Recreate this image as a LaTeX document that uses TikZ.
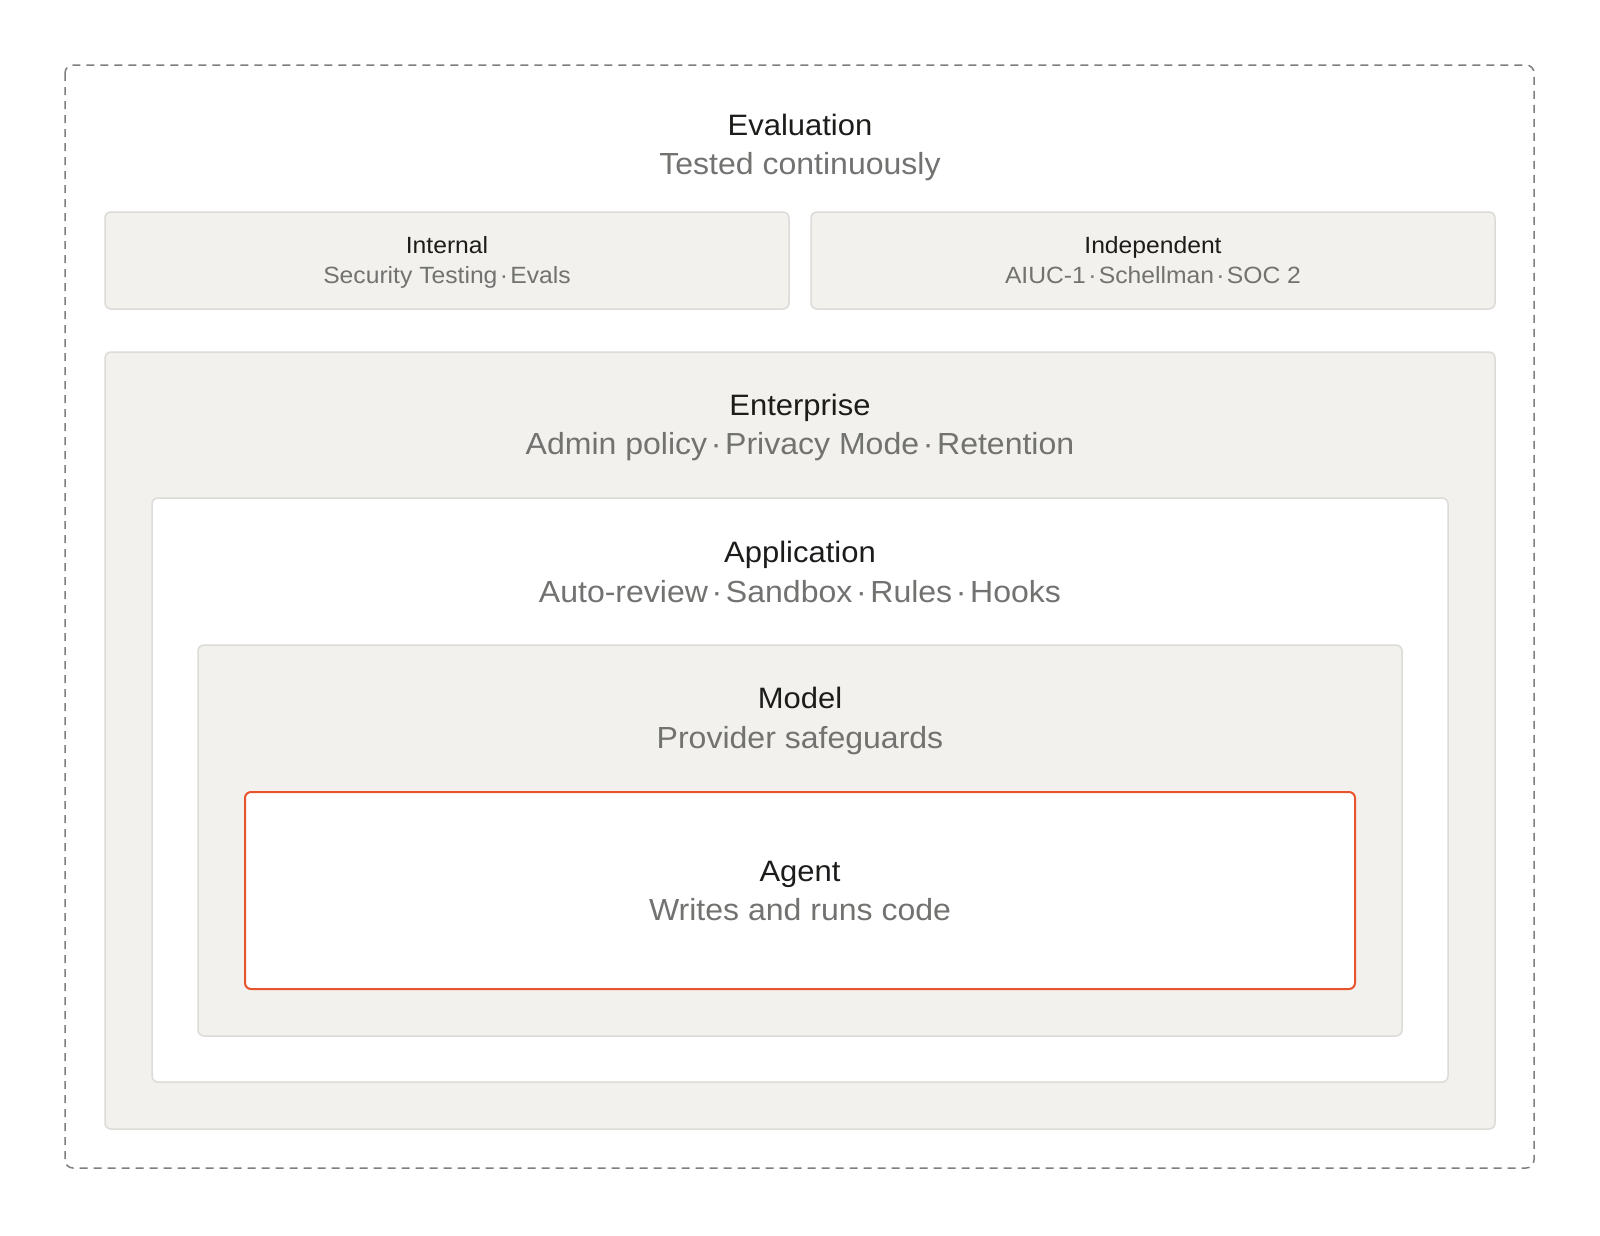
\documentclass[tikz,border=0pt]{standalone}
\usepackage{fontspec}
\setmainfont[FakeStretch=1.05]{Liberation Sans}
\definecolor{boxfill}{HTML}{F2F1EE}
\definecolor{boxline}{HTML}{DCDBD7}
\definecolor{titlec}{HTML}{1C1C1A}
\definecolor{subc}{HTML}{727270}
\definecolor{dashc}{HTML}{7E7E7E}
\definecolor{agentc}{HTML}{E8552C}
\newcommand{\sepdot}{\hspace{0.1em}·\hspace{0.1em}}
\newcommand{\bigsepdot}{\hspace{0.12em}·\hspace{0.12em}}
\tikzset{
  frame/.style={draw=dashc, line width=1.5pt, dash pattern=on 8pt off 6pt, rounded corners=8pt},
  graybox/.style={draw=boxline, fill=boxfill, line width=1.5pt, rounded corners=6pt},
  whitebox/.style={draw=boxline, fill=white, line width=1.5pt, rounded corners=6pt},
  agentbox/.style={draw=agentc, fill=white, line width=2pt, rounded corners=6pt},
  bigtitle/.style={anchor=base, inner sep=0pt, text=titlec, font=\fontsize{29.5}{36}\selectfont},
  bigsub/.style={anchor=base, inner sep=0pt, text=subc, font=\fontsize{30.5}{36}\selectfont},
  smalltitle/.style={anchor=base, inner sep=0pt, text=titlec, font=\fontsize{23.5}{28}\selectfont},
  smallsub/.style={anchor=base, inner sep=0pt, text=subc, font=\fontsize{23.5}{28}\selectfont},
}
\begin{document}
\begin{tikzpicture}[x=1pt,y=-1pt]
\useasboundingbox[fill=white] (0,0) rectangle (1600,1235);
% outer dashed frame
\draw[frame] (65,65) rectangle (1534,1168);
\node[bigtitle] (evalT) at (800,135) {Evaluation};
\node[bigsub] (evalS) at (800,174) {Tested continuously};
% evaluation boxes
\draw[graybox] (105,212) rectangle (789,309);
\node[smalltitle] (intT) at (447,253.5) {Internal};
\node[smallsub] (intS) at (447,283.5) {Security Testing\sepdot Evals};
\draw[graybox] (811,212) rectangle (1495,309);
\node[smalltitle] (indT) at (1153,253.5) {Independent};
\node[smallsub] (indS) at (1153,283.5) {AIUC-1\sepdot Schellman\sepdot SOC 2};
% enterprise
\draw[graybox] (105,352) rectangle (1495,1129);
\node[bigtitle] (entT) at (800,415) {Enterprise};
\node[bigsub] (entS) at (800,454) {Admin policy\bigsepdot Privacy Mode\bigsepdot Retention};
% application
\draw[whitebox] (152,498) rectangle (1448,1082);
\node[bigtitle] (appT) at (800,562) {Application};
\node[bigsub] (appS) at (800,602) {Auto-review\bigsepdot Sandbox\bigsepdot Rules\bigsepdot Hooks};
% model
\draw[graybox] (198,645) rectangle (1402,1036);
\node[bigtitle] (modT) at (800,708) {Model};
\node[bigsub] (modS) at (800,748.5) {Provider safeguards};
% agent
\draw[agentbox] (245,792) rectangle (1355,989);
\node[bigtitle] (agT) at (800,881.5) {Agent};
\node[bigsub] (agS) at (800,920.5) {Writes and runs code};
\end{tikzpicture}
\end{document}
